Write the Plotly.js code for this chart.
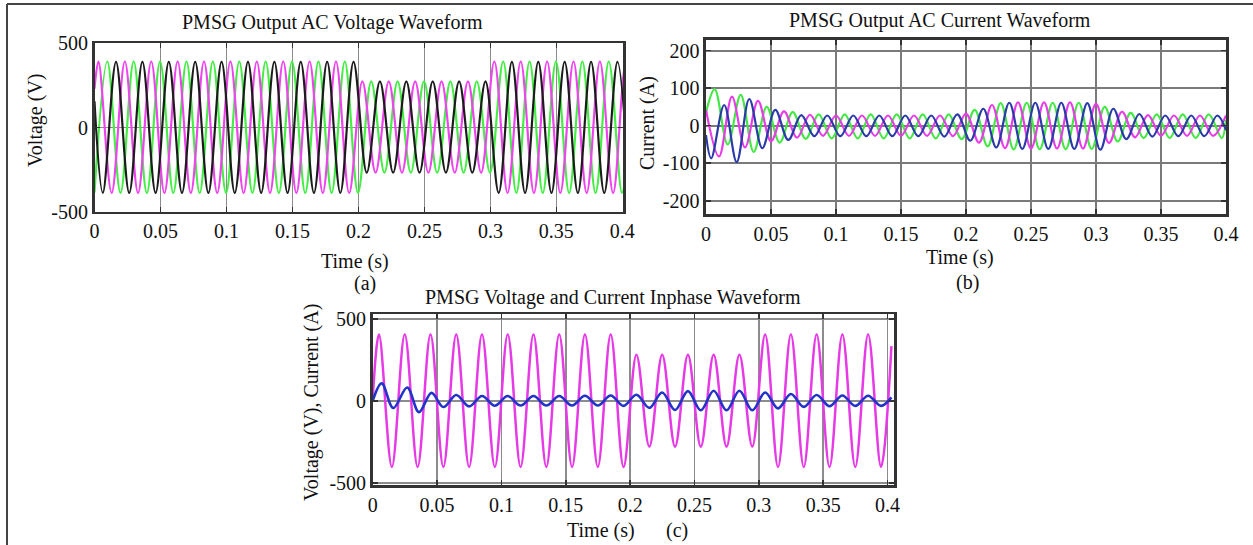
<!DOCTYPE html>
<html><head><meta charset="utf-8">
<script src="https://cdn.plot.ly/plotly-3.0.1.min.js"></script>
<style>html,body{margin:0;padding:0;background:#fff;overflow:hidden}#chart{width:1253px;height:545px}</style>
</head><body><div id="chart"></div>
<script>
// ---------- Panel (a): PMSG output AC voltage (extrema) ----------
const aMagT = [0,0.003,0.013,0.023,0.033,0.043,0.053,0.063,0.073,0.083,0.093,0.103,0.113,0.123,0.133,0.143,0.153,0.163,0.173,0.183,0.193,0.203,0.213,0.223,0.233,0.243,0.253,0.263,0.273,0.283,0.293,0.303,0.313,0.323,0.333,0.343,0.353,0.363,0.373,0.383,0.393,0.403,0.405];
const aMagV = [230,392,-388,392,-388,392,-388,392,-388,392,-388,392,-388,392,-388,392,-388,392,-388,392,-388,274,-268,274,-268,274,-268,274,-268,274,-268,392,-388,392,-388,392,-388,392,-388,392,-388,392,375];
const aGrnT = [0,0.0097,0.0197,0.0297,0.0397,0.0497,0.0597,0.0697,0.0797,0.0897,0.0997,0.1097,0.1197,0.1297,0.1397,0.1497,0.1597,0.1697,0.1797,0.1897,0.1997,0.2097,0.2197,0.2297,0.2397,0.2497,0.2597,0.2697,0.2797,0.2897,0.2997,0.3097,0.3197,0.3297,0.3397,0.3497,0.3597,0.3697,0.3797,0.3897,0.3997,0.405];
const aGrnV = [-386,392,-388,392,-388,392,-388,392,-388,392,-388,392,-388,392,-388,392,-388,392,-388,392,-388,274,-268,274,-268,274,-268,274,-268,274,-268,392,-388,392,-388,392,-388,392,-388,392,-388,40];
const aBlkT = [0,0.0063,0.0163,0.0263,0.0363,0.0463,0.0563,0.0663,0.0763,0.0863,0.0963,0.1063,0.1163,0.1263,0.1363,0.1463,0.1563,0.1663,0.1763,0.1863,0.1963,0.2063,0.2163,0.2263,0.2363,0.2463,0.2563,0.2663,0.2763,0.2863,0.2963,0.3063,0.3163,0.3263,0.3363,0.3463,0.3563,0.3663,0.3763,0.3863,0.3963,0.405];
const aBlkV = [155,-388,390,-388,390,-388,390,-388,390,-388,390,-388,390,-388,390,-388,390,-388,390,-388,390,-268,274,-268,274,-268,274,-268,274,-268,274,-388,390,-388,390,-388,390,-388,390,-388,390,-355];

// ---------- Panel (b): PMSG output AC current ----------
const bMagT = [0,0.01,0.02,0.03,0.04,0.05,0.06,0.07,0.08,0.09,0.10,0.11,0.12,0.13,0.14,0.15,0.16,0.17,0.18,0.19,0.20,0.21,0.22,0.23,0.24,0.25,0.26,0.27,0.28,0.29,0.30,0.31,0.32,0.33,0.34,0.35,0.36,0.37,0.38,0.39,0.40];
const bMagV = [42,-82,77,-58,66,-42,38,-32,29,-27,27,-27,27,-27,27,-27,27,-27,27,-28,32,-45,55,-60,62,-61,62,-61,62,-61,58,-46,37,-31,28,-27,27,-27,27,-27,27];
const bGrnT = [0,0.0067,0.0167,0.0267,0.0367,0.0467,0.0567,0.0667,0.0767,0.0867,0.0967,0.1067,0.1167,0.1267,0.1367,0.1467,0.1567,0.1667,0.1767,0.1867,0.1967,0.2067,0.2167,0.2267,0.2367,0.2467,0.2567,0.2667,0.2767,0.2867,0.2967,0.3067,0.3167,0.3267,0.3367,0.3467,0.3567,0.3667,0.3767,0.3867,0.3967,0.40];
const bGrnV = [35,97,-50,82,-70,50,-45,36,-35,30,-34,30,-34,30,-34,30,-34,30,-34,30,-36,42,-55,60,-63,61,-63,61,-63,61,-62,50,-42,34,-33,30,-33,30,-33,30,-33,15];
const bBluT = [0,0.004,0.014,0.0236,0.0333,0.0433,0.0533,0.0633,0.0733,0.0833,0.0933,0.1033,0.1133,0.1233,0.1333,0.1433,0.1533,0.1633,0.1733,0.1833,0.1933,0.2033,0.2133,0.2233,0.2333,0.2433,0.2533,0.2633,0.2733,0.2833,0.2933,0.3033,0.3133,0.3233,0.3333,0.3433,0.3533,0.3633,0.3733,0.3833,0.3933,0.40];
const bBluV = [-25,-87,55,-97,71,-60,42,-38,28,-28,27,-28,27,-28,27,-28,27,-28,27,-29,30,-40,45,-58,61,-62,61,-62,61,-62,60,-64,45,-36,31,-29,27,-28,27,-28,27,-12];

// ---------- Panel (c): voltage and current in phase ----------
const cMagT = [0,0.0049,0.0149,0.0249,0.0349,0.0449,0.0549,0.0649,0.0749,0.0849,0.0949,0.1049,0.1149,0.1249,0.1349,0.1449,0.1549,0.1649,0.1749,0.1849,0.1949,0.2049,0.2149,0.2249,0.2349,0.2449,0.2549,0.2649,0.2749,0.2849,0.2949,0.3049,0.3149,0.3249,0.3349,0.3449,0.3549,0.3649,0.3749,0.3849,0.3949,0.403];
const cMagV = [10,405,-402,405,-402,405,-402,405,-402,405,-402,405,-402,405,-402,405,-402,405,-402,405,-402,282,-278,282,-278,282,-278,282,-278,282,-278,405,-402,405,-402,405,-402,405,-402,405,-402,334];
const cBluT = [0,0.007,0.016,0.0268,0.0359,0.0457,0.0549,0.0649,0.0749,0.0849,0.0949,0.1049,0.1149,0.1249,0.1349,0.1449,0.1549,0.1649,0.1749,0.1849,0.1949,0.2049,0.2149,0.2249,0.2349,0.2449,0.2549,0.2649,0.2749,0.2849,0.2949,0.3049,0.3149,0.3249,0.3349,0.3449,0.3549,0.3649,0.3749,0.3849,0.3949,0.403];
const cBluV = [0,107,-43,82,-68,49,-37,36,-33,30,-29,30,-28,30,-28,30,-28,32,-28,33,-30,38,-42,52,-55,60,-57,62,-57,62,-57,52,-45,42,-36,36,-32,33,-30,32,-30,22];

// ---------- Tick labels ----------
const xTickVals = [0,0.05,0.1,0.15,0.2,0.25,0.3,0.35,0.4];
const xTickText = ['0','0.05','0.1','0.15','0.2','0.25','0.3','0.35','0.4'];
const vTickVals = [-500,0,500];
const vTickText = ['-500','0','500'];
const iTickVals = [-200,-100,0,100,200];
const iTickText = ['-200','-100','0','100','200'];

// ---------- Layout helpers (pixel -> paper) ----------
const W = 1253, H = 545;
const px = x => x / W, py = y => 1 - y / H;
const FONT = 'Liberation Serif, Times New Roman, serif';

function line(t, v, color, width, xa, ya) {
  return {type:'scatter', mode:'lines', x:t, y:v, xaxis:xa, yaxis:ya, hoverinfo:'skip',
          line:{color:color, width:width, shape:'spline', smoothing:1}};
}
const traces = [
  line(aGrnT, aGrnV, '#44ee44', 2.2, 'x', 'y'),
  line(aMagT, aMagV, '#ee44ee', 2.2, 'x', 'y'),
  line(aBlkT, aBlkV, '#1c1c1c', 2.2, 'x', 'y'),
  line(bGrnT, bGrnV, '#44e844', 2.2, 'x2', 'y2'),
  line(bMagT, bMagV, '#e83ce8', 2.2, 'x2', 'y2'),
  line(bBluT, bBluV, '#2a3aa8', 2.2, 'x2', 'y2'),
  line(cMagT, cMagV, '#e63ae6', 2.5, 'x3', 'y3'),
  line(cBluT, cBluV, '#2233c8', 2.6, 'x3', 'y3')
];

function ax(extra) {
  return Object.assign({
    showline:true, mirror:'ticks', linecolor:'#333', linewidth:2.6,
    ticks:'inside', ticklen:5, tickwidth:1.5, tickcolor:'#333',
    showgrid:true, gridcolor:'#8c8c8c', gridwidth:1.6, zeroline:false,
    tickfont:{family:FONT, size:20, color:'#111'}, fixedrange:true, tickmode:'array'
  }, extra);
}

function ann(text, x, y, opts) {
  return Object.assign({text:text, x:px(x), y:py(y), xref:'paper', yref:'paper',
    showarrow:false, xanchor:'center', yanchor:'middle',
    font:{family:FONT, size:20, color:'#111'}}, opts || {});
}

const layout = {
  width:W, height:H, margin:{l:0, r:0, t:0, b:0},
  paper_bgcolor:'#fff', plot_bgcolor:'#fff', showlegend:false,
  xaxis: ax({domain:[px(94.5), px(623)], range:[0,0.4005], tickvals:xTickVals, ticktext:xTickText, anchor:'y'}),
  yaxis: ax({domain:[py(211.7), py(43.3)], range:[-500,500], tickvals:vTickVals, ticktext:vTickText, anchor:'x'}),
  xaxis2: ax({domain:[px(706), px(1226)], range:[0,0.4], tickvals:xTickVals, ticktext:xTickText, anchor:'y2', gridcolor:'#7a7a7a', gridwidth:2}),
  yaxis2: ax({domain:[py(214.3), py(40)], range:[-236,228], tickvals:iTickVals, ticktext:iTickText, anchor:'x2', gridcolor:'#7a7a7a', gridwidth:2}),
  xaxis3: ax({domain:[px(372.7), px(894)], range:[0,0.405], tickvals:xTickVals, ticktext:xTickText, anchor:'y3'}),
  yaxis3: ax({domain:[py(485), py(314.3)], range:[-512,528], tickvals:vTickVals, ticktext:vTickText, anchor:'x3'}),
  annotations: [
    ann('PMSG Output AC Voltage Waveform', 180, 22, {xanchor:'left'}),
    ann('Voltage (V)', 35, 120, {textangle:-90}),
    ann('Time (s)', 355, 261),
    ann('(a)', 365, 283),
    ann('PMSG Output AC Current Waveform', 787, 21, {xanchor:'left'}),
    ann('Current (A)', 647, 123, {textangle:-90}),
    ann('Time (s)', 960, 257),
    ann('(b)', 967, 282),
    ann('PMSG Voltage and Current Inphase Waveform', 422.7, 297, {xanchor:'left'}),
    ann('Voltage (V), Current (A)', 311, 403, {textangle:-90}),
    ann('Time (s)', 601, 530),
    ann('(c)', 677, 530)
  ],
  shapes: [
    {type:'line', xref:'paper', yref:'paper', x0:px(7), x1:px(7), y0:0, y1:py(4), line:{color:'#444', width:2}},
    {type:'line', xref:'paper', yref:'paper', x0:px(7), x1:1, y0:py(4), y1:py(4), line:{color:'#444', width:2}}
  ]
};

Plotly.newPlot('chart', traces, layout, {staticPlot:true, displayModeBar:false});
</script></body></html>
